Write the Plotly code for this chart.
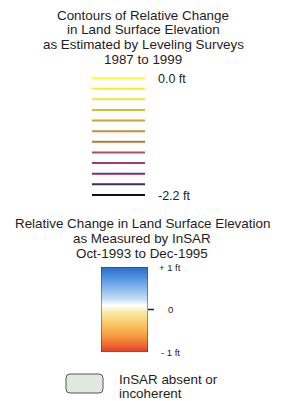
import numpy as np
import plotly.graph_objects as go

W, H = 286, 401

# ---- data ----
title_leveling = ["Contours of Relative Change", "in Land Surface Elevation",
                  "as Estimated by Leveling Surveys", "1987 to 1999"]
contour_levels_ft = [0.0, -0.2, -0.4, -0.6, -0.8, -1.0, -1.2, -1.4, -1.6, -1.8, -2.0, -2.2]
contour_colors = ["#ffff3c", "#f8ee2a", "#ece438", "#cdc036", "#c9a236", "#c58e3a",
                  "#b6743e", "#ad5058", "#a53a7a", "#7e2a82", "#3e2c5c", "#111111"]
contour_labels = ["0.0 ft", "-2.2 ft"]

title_insar = ["Relative Change in Land Surface Elevation", "as Measured by InSAR",
               "Oct-1993 to Dec-1995"]
insar_range_ft = [-1.0, 1.0]
insar_tick_vals = [1.0, 0.0, -1.0]
insar_tick_text = ["+ 1 ft", "0", "- 1 ft"]
insar_colorscale = [
    [0.00, "#e23c2c"], [0.07, "#ee6430"], [0.18, "#f49a3e"], [0.32, "#f8c662"],
    [0.44, "#fae49a"], [0.50, "#fdf3cc"], [0.55, "#ffffff"], [0.62, "#c6def6"],
    [0.75, "#86b8ec"], [0.88, "#4e8fdc"], [1.00, "#2c6cc8"],
]
nodata_text = ["InSAR absent or", "incoherent"]

FONT = "Liberation Sans, Arial, sans-serif"
TXT = "#1e1e1e"

fig = go.Figure()

# contour legend lines
for lv, col in zip(contour_levels_ft, contour_colors):
    fig.add_trace(go.Scatter(x=[0, 1], y=[lv, lv], mode="lines",
                             line=dict(color=col, width=2),
                             xaxis="x2", yaxis="y2", hoverinfo="skip", showlegend=False))

# InSAR colour ramp
ramp = np.linspace(insar_range_ft[0], insar_range_ft[1], 201)
fig.add_trace(go.Heatmap(x=[0], y=ramp, z=ramp.reshape(-1, 1),
                         colorscale=insar_colorscale, zmin=insar_range_ft[0], zmax=insar_range_ft[1],
                         showscale=False, xaxis="x3", yaxis="y3", hoverinfo="skip"))

def px(v, total):
    return v / total

hidden = dict(visible=False, showgrid=False, zeroline=False, fixedrange=True)
# y2 mapping: 0 ft at 78 px, -2.2 ft at 195 px
C_TOP, C_BOT = 78, 195
y_top, y_bot = 73, 200
scale = (C_BOT - C_TOP) / 2.2
y2_range = [-2.2 - (y_bot - C_BOT) / scale, 0 + (C_TOP - y_top) / scale]

# colour ramp box in px
R_X0, R_X1, R_Y0, R_Y1 = 101, 148, 267, 352

fig.update_layout(
    width=W, height=H, margin=dict(l=0, r=0, t=0, b=0),
    paper_bgcolor="white", plot_bgcolor="rgba(0,0,0,0)",
    xaxis=dict(range=[0, W], domain=[0, 1], **hidden),
    yaxis=dict(range=[H, 0], domain=[0, 1], **hidden),
    xaxis2=dict(range=[0, 1], domain=[px(92, W), px(145, W)], anchor="y2", **hidden),
    yaxis2=dict(range=y2_range, domain=[1 - px(y_bot, H), 1 - px(y_top, H)], anchor="x2", **hidden),
    xaxis3=dict(range=[-0.5, 0.5], domain=[px(R_X0, W), px(R_X1, W)], anchor="y3", **hidden),
    yaxis3=dict(range=insar_range_ft, domain=[1 - px(R_Y1, H), 1 - px(R_Y0, H)], anchor="x3", **hidden),
    showlegend=False,
)

def lv_to_px(lv):
    return C_TOP + (0 - lv) * scale

def ins_to_px(v):
    return R_Y0 + (insar_range_ft[1] - v) / (insar_range_ft[1] - insar_range_ft[0]) * (R_Y1 - R_Y0)

ann = []
for i, t in enumerate(title_leveling):
    ann.append(dict(x=143, y=15 + i * 14.7, text=t, xref="x", yref="y", showarrow=False,
                    xanchor="center", yanchor="middle", font=dict(family=FONT, size=13.4, color=TXT)))
for i, t in enumerate(title_insar):
    ann.append(dict(x=142, y=223 + i * 15, text=t, xref="x", yref="y", showarrow=False,
                    xanchor="center", yanchor="middle", font=dict(family=FONT, size=13.4, color=TXT)))
for lab, lv in zip(contour_labels, [contour_levels_ft[0], contour_levels_ft[-1]]):
    ann.append(dict(x=156, y=lv_to_px(lv) + 1, text=lab, xref="x", yref="y", showarrow=False,
                    xanchor="left", yanchor="middle", font=dict(family=FONT, size=12.5, color=TXT)))
for v, t in zip(insar_tick_vals, insar_tick_text):
    ann.append(dict(x=170, y=ins_to_px(v), text=t, xref="x", yref="y", showarrow=False,
                    xanchor="center", yanchor="middle", font=dict(family=FONT, size=9.5, color=TXT)))
for i, t in enumerate(nodata_text):
    ann.append(dict(x=117, y=379 + i * 14.5, text=t, xref="x", yref="y", showarrow=False,
                    xanchor="left", yanchor="middle", font=dict(family=FONT, size=13.4, color=TXT)))
fig.update_layout(annotations=ann)

# shapes: colour ramp frame, zero tick, no-data box
x0, x1, y0, y1, r = 66, 103, 374, 393, 4
path = (f"M {x0+r},{y0} L {x1-r},{y0} Q {x1},{y0} {x1},{y0+r} L {x1},{y1-r} Q {x1},{y1} {x1-r},{y1} "
        f"L {x0+r},{y1} Q {x0},{y1} {x0},{y1-r} L {x0},{y0+r} Q {x0},{y0} {x0+r},{y0} Z")
fig.update_layout(shapes=[
    dict(type="rect", xref="x3", yref="y3", x0=-0.5, x1=0.5, y0=insar_range_ft[0], y1=insar_range_ft[1],
         line=dict(color="#3a3a3a", width=1), fillcolor="rgba(0,0,0,0)"),
    dict(type="line", xref="x", yref="y", x0=R_X1, x1=R_X1 + 6, y0=ins_to_px(0), y1=ins_to_px(0),
         line=dict(color="#222", width=1.5)),
    dict(type="path", xref="x", yref="y", path=path,
         line=dict(color="#555", width=1), fillcolor="#e3e7e1"),
])

fig.write_html("out.html", config=dict(displayModeBar=False, staticPlot=True),
               post_script="document.body.style.margin='0';document.body.style.overflow='hidden';")
